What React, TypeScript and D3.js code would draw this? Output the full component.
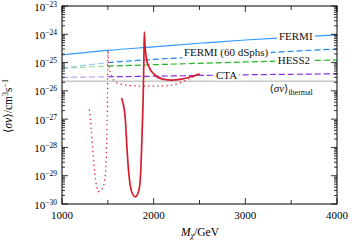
import React, { useRef, useEffect } from "react";
import * as d3 from "d3";

// mass grid (GeV) for the experimental limits
const massLimits = [1000, 1500, 2000, 2500, 3000, 3500, 4000];
const fermi = [1.85e-25, 2.7e-25, 3.6e-25, 4.8e-25, 6.3e-25, 7.8e-25, 9.5e-25];
const fermiDsph = [6.4e-26, 1.0e-25, 1.3e-25, 1.6e-25, 2.0e-25, 2.5e-25, 3.0e-25];
const hess2 = [6.3e-26, 7.5e-26, 8.4e-26, 9.4e-26, 1.05e-25, 1.15e-25, 1.23e-25];
const cta = [3.0e-26, 3.15e-26, 3.3e-26, 3.5e-26, 3.7e-26, 3.85e-26, 4.0e-26];
const thermal = [2.2e-26, 2.2e-26, 2.2e-26, 2.2e-26, 2.2e-26, 2.2e-26, 2.2e-26];

// model prediction, solid
const massSolid = [1650, 1670, 1690, 1710, 1730, 1760, 1800, 1840, 1860, 1875, 1885, 1893, 1898, 1905, 1920, 1950, 2000, 2100, 2200, 2300, 2400, 2500];
const sigmaSolid = [5.6e-27, 3.2e-27, 1.1e-27, 8e-29, 1.1e-29, 2.7e-30, 1.8e-30, 3.2e-30, 1.6e-29, 4.2e-28, 4.8e-27, 1.2e-25, 1.2e-24, 4.2e-25, 1.45e-25, 6.9e-26, 4e-26, 2.6e-26, 2.4e-26, 2.6e-26, 3.1e-26, 4e-26];

// model prediction, dotted
const massDotted = [1300, 1320, 1340, 1360, 1380, 1395, 1420, 1447, 1465, 1480, 1490, 1497, 1500, 1510, 1545, 1600, 1700, 1800, 1900, 2000, 2100, 2200, 2300, 2400, 2500];
const sigmaDotted = [2.1e-27, 4.2e-28, 5.4e-29, 1.1e-29, 3.7e-30, 2.7e-30, 3.2e-30, 3.7e-30, 7e-30, 2.4e-29, 4.2e-28, 1.07e-26, 2.8e-25, 8.1e-26, 3.1e-26, 1.9e-26, 1.6e-26, 1.5e-26, 1.5e-26, 1.5e-26, 1.5e-26, 1.6e-26, 2e-26, 2.8e-26, 4e-26];

const xMajor = [1000, 2000, 3000, 4000];
const xMinor = [1500, 2500, 3500];
const decades = [-30, -29, -28, -27, -26, -25, -24, -23];

// label text and anchor (mass, sigma)
const labelText = ["FERMI", "FERMI (60 dSphs)", "HESS2", "CTA"];
const labelMass = [3550, 2790, 3530, 2795];
const labelSigma = [8.6e-25, 2.2e-25, 1.15e-25, 3.4e-26];

const App = () => {
	const svgRef = useRef(null);
	const W = 353, H = 243;
	const left = 62, right = 337, top = 6, bottom = 204;

	useEffect(() => {
		const svg = d3.select(svgRef.current);
		svg.selectAll("*").remove();
		const font = "'Liberation Serif', 'DejaVu Serif', serif";

		const x = d3.scaleLinear().domain([1000, 4000]).range([left, right]);
		const y = d3.scaleLog().domain([1e-30, 1e-23]).range([bottom, top]);

		const line = d3.line<[number, number]>()
			.x(d => x(d[0]))
			.y(d => y(d[1]))
			.curve(d3.curveMonotoneX);

		const plot = svg.append("g");
		plot.append("clipPath").attr("id", "clip")
			.append("rect").attr("x", left).attr("y", top)
			.attr("width", right - left).attr("height", bottom - top);
		const g = plot.append("g").attr("clip-path", "url(#clip)");

		const zip = (ms, vs) => ms.map((m, i) => [m, vs[i]] as [number, number]);

		// thermal
		g.append("path").attr("d", line(zip(massLimits, thermal)))
			.attr("fill", "none").attr("stroke", "#aaaaaa").attr("stroke-width", 1);

		// dashed limits, lighter below 1500 GeV
		const dashed = [
			{ v: cta, c: "#8a2be2" },
			{ v: hess2, c: "#22b822" },
			{ v: fermiDsph, c: "#1e88f0" },
		];
		dashed.forEach(s => {
			const pts = zip(massLimits, s.v);
			g.append("path").attr("d", line(pts.slice(0, 2)))
				.attr("fill", "none").attr("stroke", s.c).attr("stroke-opacity", 0.45)
				.attr("stroke-width", 1.2).attr("stroke-dasharray", "6,3");
			g.append("path").attr("d", line(pts.slice(1)))
				.attr("fill", "none").attr("stroke", s.c)
				.attr("stroke-width", 1.2).attr("stroke-dasharray", "6,3");
		});

		// fermi solid
		g.append("path").attr("d", line(zip(massLimits, fermi)))
			.attr("fill", "none").attr("stroke", "#3399ff").attr("stroke-width", 1.1);

		// model curves
		g.append("path").attr("d", line(zip(massDotted, sigmaDotted)))
			.attr("fill", "none").attr("stroke", "#dc2f3c").attr("stroke-width", 1.5)
			.attr("stroke-dasharray", "0.1,4.5").attr("stroke-linecap", "round");
		g.append("path").attr("d", line(zip(massSolid, sigmaSolid)))
			.attr("fill", "none").attr("stroke", "#d81e2e").attr("stroke-width", 1.7);

		// labels with white boxes
		const addLabel = (cx, cy, build) => {
			const lg = svg.append("g");
			const rect = lg.append("rect").attr("fill", "white");
			const t = lg.append("text").attr("x", cx).attr("y", cy).attr("dy", "0.32em")
				.attr("text-anchor", "middle").attr("font-family", font)
				.attr("font-size", 11).attr("fill", "#111");
			build(t);
			const b = (t.node() as SVGTextElement).getBBox();
			rect.attr("x", b.x - 2).attr("y", b.y + 1).attr("width", b.width + 4).attr("height", b.height - 2);
		};
		labelText.forEach((txt, i) => {
			addLabel(x(labelMass[i]), y(labelSigma[i]), t => t.text(txt));
		});
		addLabel(x(3500), y(1.26e-26), t => {
			t.append("tspan").text("⟨");
			t.append("tspan").attr("font-style", "italic").text("σv");
			t.append("tspan").text("⟩");
			t.append("tspan").attr("font-size", 8).attr("dy", 3).text("thermal");
		});

		// frame
		svg.append("rect").attr("x", left).attr("y", top)
			.attr("width", right - left).attr("height", bottom - top)
			.attr("fill", "none").attr("stroke", "#000").attr("stroke-width", 1);

		// x ticks
		const ticks = svg.append("g").attr("stroke", "#000").attr("stroke-width", 0.8);
		xMajor.concat(xMinor).forEach(m => {
			const len = xMajor.includes(m) ? 6 : 4;
			ticks.append("line").attr("x1", x(m)).attr("x2", x(m)).attr("y1", bottom).attr("y2", bottom - len);
			ticks.append("line").attr("x1", x(m)).attr("x2", x(m)).attr("y1", top).attr("y2", top + len);
		});
		xMajor.forEach(m => {
			svg.append("text").attr("x", x(m)).attr("y", 219)
				.attr("text-anchor", "middle").attr("font-family", font)
				.attr("font-size", 11).text(m);
		});

		// y ticks
		decades.forEach(d => {
			const v = Math.pow(10, d);
			ticks.append("line").attr("x1", left).attr("x2", left + 6).attr("y1", y(v)).attr("y2", y(v));
			ticks.append("line").attr("x1", right).attr("x2", right - 6).attr("y1", y(v)).attr("y2", y(v));
			if (d < -23) {
				for (let k = 2; k <= 9; k++) {
					const vv = k * v;
					ticks.append("line").attr("x1", left).attr("x2", left + 3).attr("y1", y(vv)).attr("y2", y(vv));
					ticks.append("line").attr("x1", right).attr("x2", right - 3).attr("y1", y(vv)).attr("y2", y(vv));
				}
			}
			const t = svg.append("text").attr("x", 57).attr("y", y(v) + 4.5)
				.attr("text-anchor", "end").attr("font-family", font).attr("font-size", 11);
			t.append("tspan").text("10");
			t.append("tspan").attr("font-size", 7.5).attr("dy", -4).text("−" + (-d));
		});

		// axis titles
		const xt = svg.append("text").attr("x", 200).attr("y", 236)
			.attr("text-anchor", "middle").attr("font-family", font).attr("font-size", 11.5);
		xt.append("tspan").attr("font-style", "italic").text("M");
		xt.append("tspan").attr("font-style", "italic").attr("font-size", 8).attr("dy", 2).text("χ");
		xt.append("tspan").attr("dy", -2).text("/GeV");

		const yt = svg.append("text").attr("transform", "translate(12,106) rotate(-90)")
			.attr("text-anchor", "middle").attr("font-family", font).attr("font-size", 11.5);
		yt.append("tspan").text("⟨");
		yt.append("tspan").attr("font-style", "italic").text("σv");
		yt.append("tspan").text("⟩/cm");
		yt.append("tspan").attr("font-size", 8).attr("dy", -4).text("3");
		yt.append("tspan").attr("dy", 4).text("s");
		yt.append("tspan").attr("font-size", 8).attr("dy", -4).text("−1");
	});

	return (
		<svg ref={svgRef} width={W} height={H}
			style={{ position: "absolute", left: 0, top: 0, background: "white" }}>
		</svg>
	);
};

export default App;
